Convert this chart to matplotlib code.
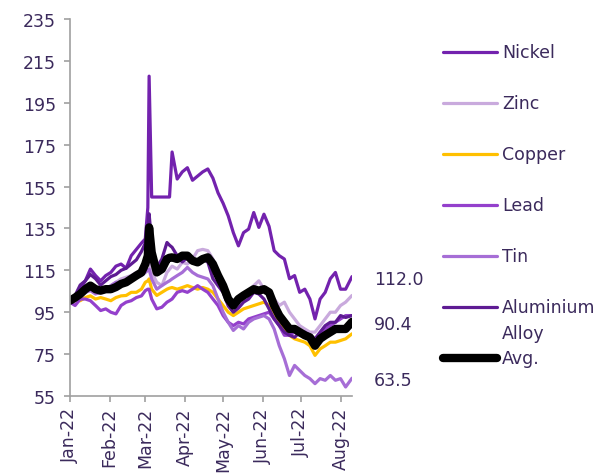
import matplotlib
matplotlib.use("Agg")
import matplotlib.pyplot as plt
import matplotlib.dates as mdates
from matplotlib.lines import Line2D
import pandas as pd

# days since 1 Jan 2022 (values indexed to 100 at start of year)
day_offsets = [0, 4, 8, 12, 16, 20, 24, 28, 32, 36, 40, 44, 48, 52, 56, 59, 61, 62, 64, 68,
               72, 76, 78, 80, 84, 88, 92, 96, 100, 104, 108, 112, 116, 120, 124, 128, 132, 136, 140, 144,
               148, 152, 156, 160, 164, 168, 172, 176, 180, 184, 188, 192, 196, 200, 204, 208, 212, 216, 221]

nickel = [100.5, 102, 106, 110, 115.6, 112.5, 110, 112.5, 114, 117, 118, 116, 122, 125, 128, 130, 145, 207.7, 150, 150,
          150, 150, 150, 171.5, 158.6, 162, 164, 158, 160, 162, 163.4, 159, 152, 147, 141, 133, 126.7, 133, 134.7, 142.6,
          135.5, 141.8, 136, 124.4, 122, 120.4, 111, 112.5, 104.5, 106, 101.3, 91.8, 101.3, 104.5, 111, 114, 106, 106, 112.0]
zinc = [99.8, 101.3, 102, 104.5, 106, 106, 107.7, 106, 107.7, 109.3, 110.9, 111.7, 112.5, 114, 114, 117, 119, 120.4, 114, 109.3,
        107.7, 114, 115.5, 117, 115.6, 118.8, 118, 120.4, 124.4, 125, 124.4, 120.4, 114, 107.7, 101.3, 98.2, 101.3, 101.3, 104.5, 107.7,
        110, 106, 104.5, 101.3, 98.2, 99.8, 95, 91.8, 88.6, 87, 85.5, 85.5, 88.6, 91.8, 95, 95, 98.2, 99.8, 103]
copper = [99.8, 100.5, 100.5, 102, 102.8, 101.3, 102, 101.3, 100.5, 102, 102.8, 103, 104.5, 104.5, 106, 109.3, 110, 110.9, 106, 103,
          104.5, 106, 106.5, 106.8, 106, 106.8, 107.7, 106.8, 106, 106.8, 106, 104.5, 101.3, 98.2, 95, 93.4, 95, 96.6, 97.4, 98.2,
          99, 99.8, 98.2, 95, 90.2, 87, 84, 82.3, 81.5, 80.7, 79, 74.4, 77.5, 79, 80.7, 80.7, 81.5, 82.3, 84.7]
lead = [99.8, 98.2, 101.3, 101.3, 100.5, 98.2, 95.8, 96.6, 95, 94.2, 98.2, 99.8, 100.5, 102, 102.8, 105.3, 106, 106, 101.3, 96.6,
        97.4, 99.8, 100.5, 101.3, 104.5, 105.3, 104.5, 106, 107.7, 106, 104.5, 101.3, 98.2, 93.4, 90.2, 88.6, 90.2, 89.4, 91.8, 92.6,
        93.4, 94.2, 95, 91.8, 88.6, 84, 84, 85.5, 84, 83.3, 82.3, 80.7, 84, 87, 88.6, 90.2, 91.8, 93.4, 93.4]
tin = [99.8, 100.5, 103, 104.5, 105.3, 103.7, 104.5, 106, 107.7, 109.3, 107.7, 109.3, 110.9, 111.7, 112.5, 114, 115, 115.6, 110.9, 106,
       107.7, 109.3, 110, 110.9, 112.5, 114, 116.4, 114, 112.5, 111.7, 110.9, 107.7, 101.3, 95, 90.2, 86.3, 88.6, 87, 90.2, 91.8,
       92.6, 93.4, 91.8, 87, 79, 72.8, 64.8, 69.6, 67.2, 64.8, 63.3, 60.9, 63.3, 62.5, 64.8, 62.5, 63.3, 59.3, 63.5]
aluminium = [100.5, 103, 108, 110, 113, 111, 108, 110, 112, 113, 115, 116, 118, 120, 124, 128, 134, 142, 128, 116.4,
             120.4, 128.3, 127, 126, 122, 119, 121, 120, 118, 120.4, 119, 111, 107.7, 104.5, 98, 95, 97, 99.8, 101.3, 104.5,
             103.7, 101.3, 96.6, 91.8, 88.6, 85.5, 84, 83, 85.5, 85.5, 84, 82.3, 85.5, 88.6, 90.2, 90.2, 93.4, 92.5, 93.4]
avg = [100.5, 102, 103.7, 106, 107.7, 106, 105.3, 106, 106, 107, 108.5, 109.3, 110.9, 112.5, 114, 118, 122, 135.5, 123.6, 114,
       115.6, 120.4, 121, 121.2, 120.4, 122, 122, 119.6, 118.8, 120.4, 121.2, 118, 112.5, 107.7, 101.3, 98.2, 101.3, 103, 104.5, 106,
       105.3, 106, 104.5, 98.2, 93.4, 90.2, 87, 87, 85.5, 84, 83, 79, 82.3, 84, 85.5, 87, 87, 87, 90.4]

series_names = ["Nickel", "Zinc", "Copper", "Lead", "Tin", "Aluminium\nAlloy", "Avg."]
series_data = [nickel, zinc, copper, lead, tin, aluminium, avg]
colors = ["#7322AE", "#C9AADD", "#FFC000", "#9440CC", "#A66ED6", "#5E1B93", "#000000"]
widths = [2.3, 2.3, 2.3, 2.3, 2.3, 2.3, 6]

end_labels = [nickel, avg, tin]

text_col = "#3B2A5C"
axis_col = "#A0A0A0"

dates = pd.Timestamp("2022-01-01") + pd.to_timedelta(day_offsets, unit="D")

fig = plt.figure(figsize=(6.03, 4.77), dpi=100)
W, H = 603, 477
ax = fig.add_axes([70 / W, 1 - 397 / H, (352 - 70) / W, (397 - 20) / H])

for vals, col, lw in zip(series_data, colors, widths):
    ax.plot(dates, vals, color=col, lw=lw, solid_joinstyle="round", solid_capstyle="round")

ax.set_ylim(55, 235)
ax.set_yticks(range(55, 236, 20))
ax.set_xlim(pd.Timestamp("2022-01-01"), pd.Timestamp("2022-08-10"))
ax.xaxis.set_major_locator(mdates.MonthLocator())
ax.xaxis.set_major_formatter(mdates.DateFormatter("%b-%y"))

for s in ["top", "right"]:
    ax.spines[s].set_visible(False)
for s in ["left", "bottom"]:
    ax.spines[s].set_color(axis_col)
    ax.spines[s].set_linewidth(1.2)
ax.tick_params(axis="both", direction="out", length=4, width=1.2, color=axis_col,
               labelcolor=text_col, labelsize=12.5)
ax.tick_params(axis="y", pad=6)
ax.tick_params(axis="x", rotation=90, pad=4)

# end-of-series value labels
for vals in end_labels:
    ax.annotate(f"{vals[-1]:.1f}", xy=(dates[-1], vals[-1]), xytext=(16, -1.5),
                textcoords="offset points", va="center", ha="left",
                fontsize=12.5, color=text_col, annotation_clip=False)

# legend, drawn in figure pixels
legend_y = [53, 104, 155, 206, 257, 308, 359]
for name, col, lw, yp in zip(series_names, colors, widths, legend_y):
    fy = 1 - yp / H
    fig.add_artist(Line2D([443 / W, 497 / W], [fy, fy], color=col,
                          lw=lw, solid_capstyle="round",
                          transform=fig.transFigure))
    first, *rest = name.split("\n")
    fig.text(502 / W, fy, first, va="center", ha="left", fontsize=12.5, color=text_col)
    for i, line in enumerate(rest, 1):
        fig.text(502 / W, 1 - (yp + 26 * i) / H, line, va="center", ha="left",
                 fontsize=12.5, color=text_col)

fig.savefig("out.png", dpi=100)
